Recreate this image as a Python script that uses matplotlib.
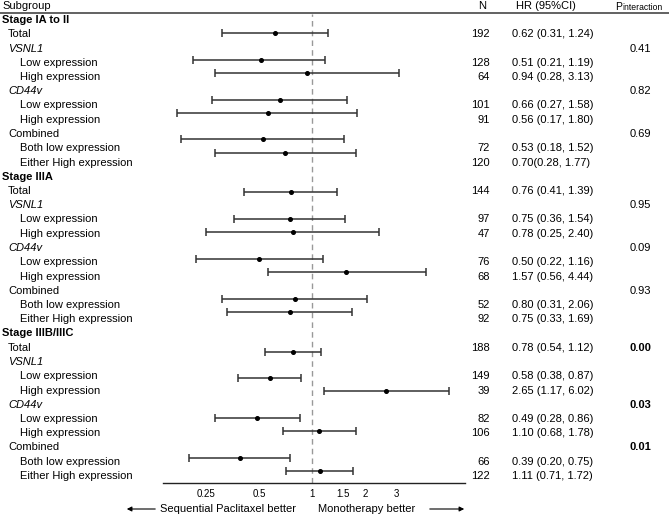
import numpy as np
import matplotlib
matplotlib.use("Agg")
import matplotlib.pyplot as plt
from matplotlib.lines import Line2D
from matplotlib.patches import FancyArrowPatch

plt.rcParams['font.family'] = ['Liberation Sans', 'DejaVu Sans']

groups = ['Stage IA to II', 'Stage IIIA', 'Stage IIIB/IIIC']
sub_labels = ['Total', 'VSNL1', 'Low expression', 'High expression', 'CD44v',
              'Low expression', 'High expression', 'Combined',
              'Both low expression', 'Either High expression']
sub_italic = [False, True, False, False, True, False, False, False, False, False]
sub_indent = [1, 1, 2, 2, 1, 2, 2, 1, 2, 2]
data_rows = [0, 2, 3, 5, 6, 8, 9]   # rows within a group that carry an estimate

n_vals = [[192, 128, 64, 101, 91, 72, 120],
          [144, 97, 47, 76, 68, 52, 92],
          [188, 149, 39, 82, 106, 66, 122]]
hr = [[0.62, 0.51, 0.94, 0.66, 0.56, 0.53, 0.70],
      [0.76, 0.75, 0.78, 0.50, 1.57, 0.80, 0.75],
      [0.78, 0.58, 2.65, 0.49, 1.10, 0.39, 1.11]]
lo = [[0.31, 0.21, 0.28, 0.27, 0.17, 0.18, 0.28],
      [0.41, 0.36, 0.25, 0.22, 0.56, 0.31, 0.33],
      [0.54, 0.38, 1.17, 0.28, 0.68, 0.20, 0.71]]
hi = [[1.24, 1.19, 3.13, 1.58, 1.80, 1.52, 1.77],
      [1.39, 1.54, 2.40, 1.16, 4.44, 2.06, 1.69],
      [1.12, 0.87, 6.02, 0.86, 1.78, 0.75, 1.72]]
p_vals = [['0.41', '0.82', '0.69'],
          ['0.95', '0.09', '0.93'],
          ['0.00', '0.03', '0.01']]
p_rows = [[1, 4, 7], [1, 4, 7], [0, 4, 7]]
p_bold = [False, False, True]

xticks = [0.25, 0.5, 1, 1.5, 2, 3]
xtick_labels = ['0.25', '0.5', '1', '1.5', '2', '3']

W, H = 669, 516
fig = plt.figure(figsize=(W / 100, H / 100), dpi=100)


def fy(y):
    return 1 - y / H


def fx(x):
    return x / W


FS = 8
row0, row_h = 20, 14.25
indent_px = {0: 2, 1: 8, 2: 20}

# header
fig.text(fx(2), fy(6), 'Subgroup', fontsize=FS, va='center', ha='left')
fig.text(fx(482), fy(6), 'N', fontsize=FS, va='center', ha='center')
fig.text(fx(546), fy(6), 'HR (95%CI)', fontsize=FS, va='center', ha='center')
fig.text(fx(615), fy(9.5), 'P', fontsize=7.5, va='baseline', ha='left')
fig.text(fx(622.5), fy(9.5), 'interaction', fontsize=6.2, va='baseline', ha='left')
fig.add_artist(Line2D([0, 1], [fy(12.5), fy(12.5)], color='#555555', lw=1.3,
                      transform=fig.transFigure))

# text columns
for g, name in enumerate(groups):
    base = g * 11
    fig.text(fx(indent_px[0]), fy(row0 + base * row_h), name, fontsize=FS,
             fontweight='bold', va='center', ha='left')
    for i, lab in enumerate(sub_labels):
        y = row0 + (base + 1 + i) * row_h
        fig.text(fx(indent_px[sub_indent[i]]), fy(y), lab, fontsize=FS,
                 style='italic' if sub_italic[i] else 'normal',
                 va='center', ha='left')
    for k, r in enumerate(data_rows):
        y = row0 + (base + 1 + r) * row_h
        fig.text(fx(490), fy(y), str(n_vals[g][k]), fontsize=FS,
                 va='center', ha='right')
        sep = '' if (g == 0 and k == 6) else ' '
        txt = f'{hr[g][k]:.2f}{sep}({lo[g][k]:.2f}, {hi[g][k]:.2f})'
        fig.text(fx(512), fy(y), txt, fontsize=FS, va='center', ha='left')
    for p, r in zip(p_vals[g], p_rows[g]):
        y = row0 + (base + 1 + r) * row_h
        fig.text(fx(640), fy(y), p, fontsize=FS, va='center', ha='center',
                 fontweight='bold' if p_bold[g] else 'normal')

# forest plot
ax = fig.add_axes([fx(163), fy(483), (465 - 163) / W, (483 - 14) / H])
ax.set_xscale('log')
for g in range(3):
    slots = np.array(data_rows) + 12 * g
    h = np.array(hr[g])
    ax.errorbar(h, slots, xerr=[h - np.array(lo[g]), np.array(hi[g]) - h],
                fmt='o', ms=2.6, color='black', ecolor='#333333',
                elinewidth=1.1, capsize=3, capthick=1.1)
ax.axvline(1, color='#999999', lw=1, ls=(0, (4, 3)), zorder=0)
ax.set_xlim(0.1424, 7.4)
ax.set_ylim(33.9, -1.45)
for s in ['top', 'left', 'right']:
    ax.spines[s].set_visible(False)
ax.spines['bottom'].set_color('#222222')
ax.spines['bottom'].set_linewidth(1)
ax.set_yticks([])
ax.set_xticks(xticks)
ax.set_xticklabels(xtick_labels)
ax.minorticks_off()
ax.tick_params(axis='x', length=0, pad=4, labelsize=7)
ax.patch.set_alpha(0)

# direction labels
fig.text(fx(296), fy(509), 'Sequential Paclitaxel better', fontsize=FS,
         va='center', ha='right')
fig.text(fx(318), fy(509), 'Monotherapy better', fontsize=FS,
         va='center', ha='left')
arrow = dict(arrowstyle='-|>', color='black', lw=0.8, mutation_scale=7)
fig.add_artist(FancyArrowPatch((fx(158), fy(509)), (fx(124), fy(509)),
                               transform=fig.transFigure, **arrow))
fig.add_artist(FancyArrowPatch((fx(427), fy(509)), (fx(467), fy(509)),
                               transform=fig.transFigure, **arrow))

fig.savefig('out.png', dpi=100)
